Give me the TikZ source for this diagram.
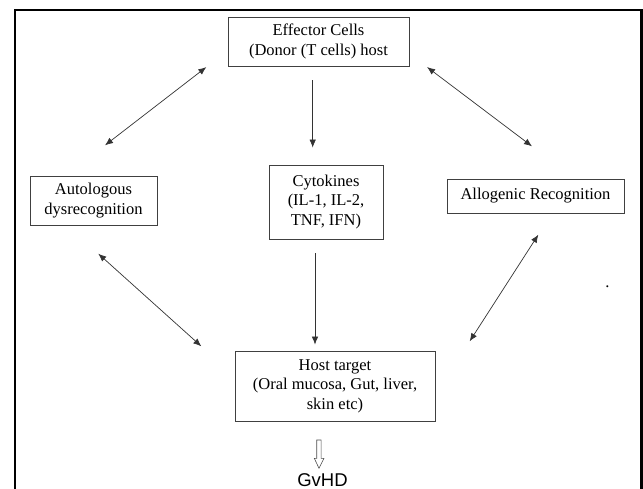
\documentclass[tikz,border=0pt]{standalone}
\usepackage{fontspec}
\setmainfont{Liberation Serif}
\newfontfamily\gvfont{Liberation Sans}
\usetikzlibrary{arrows.meta}

\begin{document}
\begin{tikzpicture}[x=1pt, y=-1pt,
        link/.style={draw=black!80, line width=0.7pt},
        >={Latex[length=8pt,width=6.5pt]}]
        \useasboundingbox (0,0) rectangle (643,489);
        \draw[line width=2.5pt] (15,500) -- (15,10) -- (641.5,10) -- (641.5,500);
        \begin{scope}[every node/.style={draw=black!75, line width=0.8pt, align=center, inner sep=0, font=\fontsize{16.5}{19.5}\selectfont}]
            \node [minimum width=181, minimum height=49] (eff) at (318.5,41.5) {Effector Cells\\(Donor (T cells) host};
            \node [minimum width=127, minimum height=49] (auto) at (93.5,200.5) {Autologous\\dysrecognition};
            \node [minimum width=114, minimum height=74] (cyto) at (326,202) {Cytokines\\(IL-1, IL-2,\\TNF, IFN)};
            \node [minimum width=177, minimum height=34] (allo) at (535.5,196) {Allogenic Recognition};
            \node [minimum width=200, minimum height=70] (host) at (335,386) {Host target\\(Oral mucosa, Gut, liver,\\skin etc)};
            \node [draw=none, anchor=base] (dot) at (607.5,287.5) {.};
            \node [draw=none, anchor=base, font=\gvfont\fontsize{18.5}{22}\selectfont] (gvhd) at (322.5,486) {GvHD};
        \end{scope}
        \draw [link, <->] ([shift={(-21.3,0.7)}]eff.south west) -- ([shift={(11.5,-30.3)}]auto.north);
        \draw [link, ->] ([shift={(-5.8,14)}]eff.south) -- ([shift={(-13.3,-17)}]cyto.north);
        \draw [link, <->] ([shift={(17.7,0.7)}]eff.south east) -- ([shift={(-3.5,-32.3)}]allo.north);
        \draw [link, <->] ([shift={(4.8,28.3)}]auto.south) -- ([shift={(-33.3,-4.3)}]host.north west);
        \draw [link, ->] ([shift={(-11,14)}]cyto.south) -- ([shift={(-20,-6)}]host.north);
        \draw [link, <->] ([shift={(2.8,21.3)}]allo.south) -- ([shift={(34.3,-9.3)}]host.north east);
        \coordinate (harr) at (319,440);
        \draw [black!70, line width=0.6pt] (harr) ++(-2.3,0) -- ++(0,18.3) -- ++(-2.4,0) -- (319,468.3)
            -- (324,458.3) -- ++(-2.9,0) -- ++(0,-18.3) -- cycle;
\end{tikzpicture}
\end{document}
